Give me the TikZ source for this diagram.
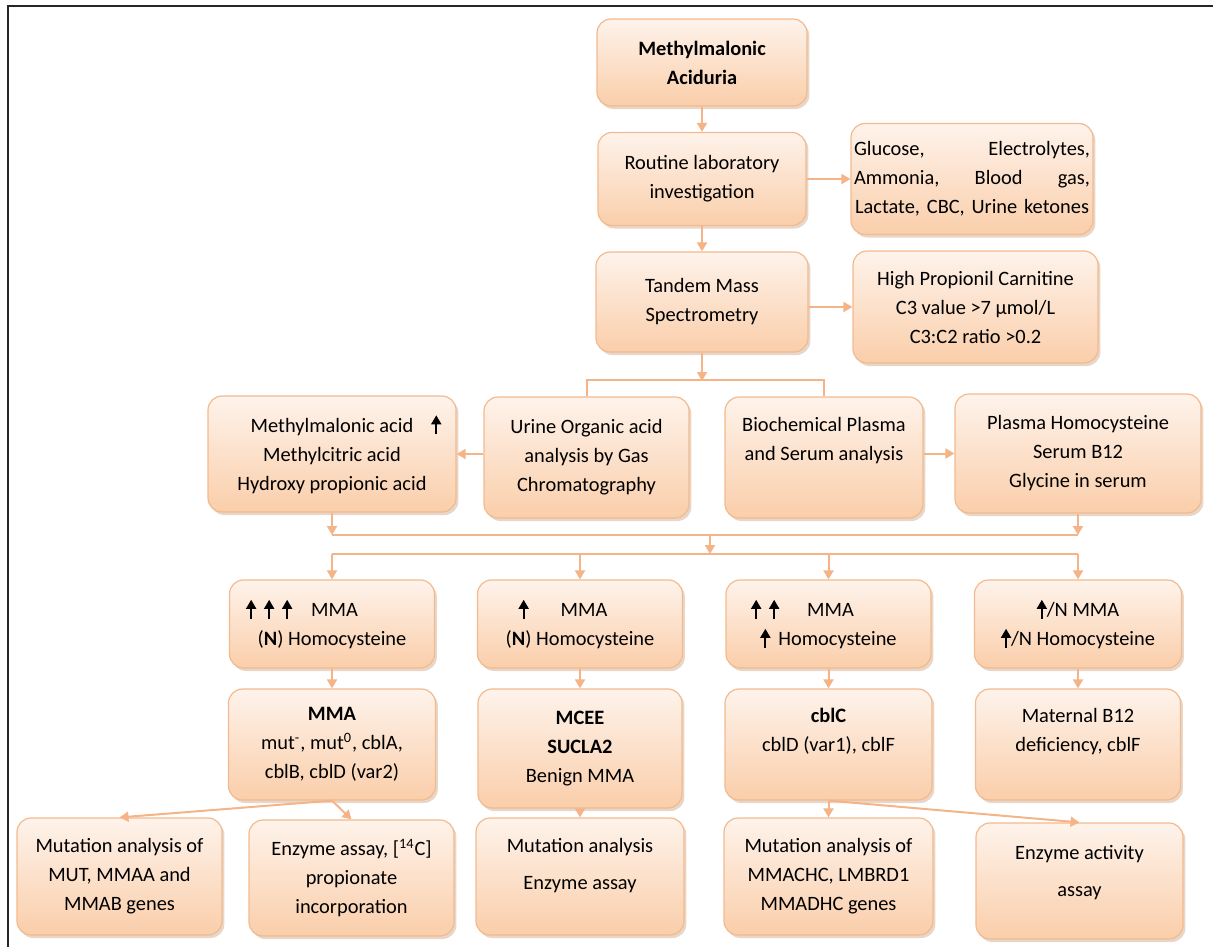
\documentclass[tikz,border=0pt]{standalone}
\usepackage{fontspec}
\setmainfont{Carlito}
\usetikzlibrary{arrows.meta,shadows}
\definecolor{boxtop}{RGB}{254,243,235}
\definecolor{boxbot}{RGB}{250,206,170}
\definecolor{boxline}{RGB}{242,186,142}
\definecolor{flowcol}{RGB}{245,180,135}
\definecolor{shadecol}{RGB}{190,140,100}
\newcommand{\upar}{\tikz[baseline=0pt]\draw[black,line width=0.9pt,-{Triangle[width=5pt,length=4.5pt]}] (0pt,-1pt) -- (0pt,8.5pt);}
\tikzset{
  mbox/.style={draw=boxline, line width=0.6pt, rounded corners=7pt, top color=boxtop, bottom color=boxbot,
    drop shadow={shadow xshift=1.2pt, shadow yshift=-1.5pt, opacity=0.35, fill=shadecol},
    align=center, inner sep=2pt, font=\fontsize{10.2}{14.5}\selectfont},
  flow/.style={draw=flowcol, line width=1pt, -{Triangle[width=5pt,length=4.5pt]}},
  link/.style={draw=flowcol, line width=1pt}
}
\begin{document}
\begin{tikzpicture}[x=0.5pt,y=-0.5pt]
\useasboundingbox (0,0) rectangle (1213,947);
\draw[line width=1.2pt, black!85] (1213,6) -- (8,6) -- (8,947);
\node[mbox, minimum width=105pt, minimum height=43.5pt] (mmaria) at (702,62.5) {\textbf{Methylmalonic}\\\textbf{Aciduria}};
\node[mbox, minimum width=104pt, minimum height=46.5pt] (routine) at (702,179) {Routine laboratory\\investigation};
\node[mbox, minimum width=121pt, minimum height=55.5pt, inner sep=1.5pt, text width=118pt] (lab) at (972,179) {Glucose,\hfill Electrolytes,\\Ammonia,\hfill Blood\hfill gas,\\\mbox{Lactate, CBC, Urine ketones}};
\node[mbox, minimum width=106pt, minimum height=50pt] (tandem) at (702,302) {Tandem Mass\\Spectrometry};
\node[mbox, minimum width=122.5pt, minimum height=56pt] (carn) at (975.5,307) {High Propionil Carnitine\\C3 value >7 µmol/L\\C3:C2 ratio >0.2};
\node[mbox, minimum width=124pt, minimum height=58pt] (acids) at (332,454) {Methylmalonic acid\rlap{\hspace{9pt}\upar}\\Methylcitric acid\\Hydroxy propionic acid};
\node[mbox, minimum width=102.5pt, minimum height=60.5pt] (urine) at (586.5,457.5) {Urine Organic acid\\analysis by Gas\\Chromatography};
\node[mbox, minimum width=99pt, minimum height=60.5pt] (biochem) at (824,457.5) {Biochemical Plasma\\and Serum analysis\\[4pt] \mbox{}};
\node[mbox, minimum width=123pt, minimum height=59.5pt] (plasma) at (1078,453.5) {Plasma Homocysteine\\Serum B12\\Glycine in serum};
\node[mbox, minimum width=102.5pt, minimum height=44pt] (a4) at (332,624) {\upar\hspace{4pt}\upar\hspace{4pt}\upar\hspace{9.5pt}MMA\hspace*{30pt}\\(\textbf{N}) Homocysteine};
\node[mbox, minimum width=102.5pt, minimum height=44pt] (b4) at (580,624) {\upar\hspace{16pt}MMA\hspace*{17pt}\\(\textbf{N}) Homocysteine};
\node[mbox, minimum width=102.5pt, minimum height=44pt] (c4) at (828.5,624) {\upar\hspace{4pt}\upar\hspace{14pt}MMA\hspace*{26pt}\\\upar\hspace{4pt}Homocysteine};
\node[mbox, minimum width=103.5pt, minimum height=44pt] (d4) at (1078,624) {\upar/N MMA\\\upar/N Homocysteine};
\node[mbox, minimum width=103.5pt, minimum height=55.5pt] (mmagenes) at (332,744.5) {\textbf{MMA}\\mut\textsuperscript{-}, mut\textsuperscript{0}, cblA,\\cblB, cblD (var2)};
\node[mbox, minimum width=102pt, minimum height=59.5pt] (mcee) at (580,748.5) {\textbf{MCEE}\\\textbf{SUCLA2}\\Benign MMA};
\node[mbox, minimum width=103.5pt, minimum height=55.5pt] (cblc) at (828.5,744.5) {\textbf{cblC}\\cblD (var1), cblF\\ \mbox{}};
\node[mbox, minimum width=102.5pt, minimum height=55.5pt] (maternal) at (1078,744.5) {Maternal B12\\deficiency, cblF\\ \mbox{}};
\node[mbox, minimum width=102.5pt, minimum height=58.5pt] (muta) at (119.5,876.5) {Mutation analysis of\\MUT, MMAA and\\MMAB genes};
\node[mbox, minimum width=102.5pt, minimum height=58pt] (enza) at (351.5,878) {Enzyme assay, [\textsuperscript{14}C]\\propionate\\incorporation};
\node[mbox, minimum width=104pt, minimum height=58.5pt] (mutb) at (580,876.5) {Mutation analysis\\[4pt]Enzyme assay\\[-2pt] \mbox{}};
\node[mbox, minimum width=104.5pt, minimum height=58.5pt] (mutc) at (828.5,876.5) {Mutation analysis of\\MMACHC, LMBRD1\\MMADHC genes};
\node[mbox, minimum width=103.5pt, minimum height=58pt] (enzc) at (1079.5,881) {Enzyme activity\\[4pt]assay\\[-4.5pt] \mbox{}};
\coordinate (split) at (702,381);
\coordinate (join) at (710,535);
\coordinate (fork) at (710,554);
\draw[flow] (mmaria) -- (routine);
\draw[flow] (routine) -- (tandem);
\draw[flow] (routine) -- (lab);
\draw[flow] (tandem.east |- carn) -- (carn.west);
\draw[flow] (tandem) -- (split);
\draw[link] (urine.north) -- ++(0,-16) -| (biochem.north);
\draw[flow] (urine.west |- acids) -- (acids.east);
\draw[flow] (biochem.east |- plasma) -- (plasma.west);
\draw[flow] (acids.south) -- (acids.south |- join);
\draw[flow] (plasma.south) -- (plasma.south |- join);
\draw[link] (acids.south |- join) -- (plasma.south |- join);
\draw[flow] (join) -- (fork);
\draw[link] (a4.north |- fork) -- (d4.north |- fork);
\foreach \n in {a4,b4,c4,d4} \draw[flow] (\n.north |- fork) -- (\n.north);
\draw[flow] (a4) -- (mmagenes);
\draw[flow] (b4) -- (mcee);
\draw[flow] (c4) -- (cblc);
\draw[flow] (d4) -- (maternal);
\draw[flow] (mmagenes.south) -- (muta.north);
\draw[flow] (mmagenes.south) -- (enza.north);
\draw[flow] (mcee) -- (mutb);
\draw[flow] (cblc) -- (mutc);
\draw[flow] (cblc.south) -- (enzc.north);
\end{tikzpicture}
\end{document}
